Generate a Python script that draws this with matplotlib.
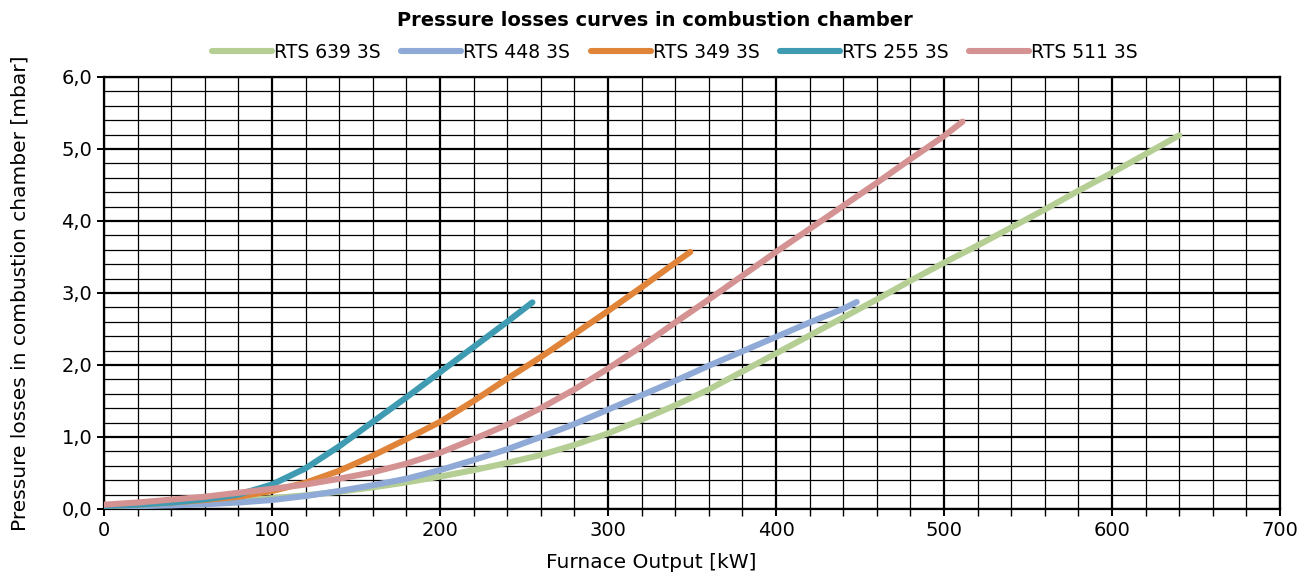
import matplotlib
matplotlib.use("Agg")
import matplotlib.pyplot as plt
from matplotlib.ticker import MultipleLocator, FuncFormatter

# --- data ---
x_639 = [0, 20, 40, 60, 80, 100, 120, 140, 160, 180, 200, 220, 240, 260, 280, 300,
         320, 340, 360, 380, 400, 420, 440, 460, 480, 500, 520, 540, 560, 580, 600, 620, 640]
y_639 = [0.04, 0.06, 0.08, 0.10, 0.12, 0.15, 0.19, 0.24, 0.30, 0.37, 0.45, 0.54, 0.64, 0.75, 0.89, 1.05,
         1.24, 1.44, 1.66, 1.91, 2.16, 2.41, 2.66, 2.91, 3.17, 3.42, 3.66, 3.91, 4.16, 4.42, 4.67, 4.93, 5.19]

x_448 = [0, 20, 40, 60, 80, 100, 120, 140, 160, 180, 200, 220, 240, 260, 280, 300,
         320, 340, 360, 380, 400, 420, 440, 448]
y_448 = [0.03, 0.04, 0.05, 0.065, 0.09, 0.125, 0.18, 0.25, 0.33, 0.42, 0.54, 0.68, 0.83, 1.00, 1.18, 1.38,
         1.58, 1.78, 1.99, 2.19, 2.39, 2.59, 2.78, 2.875]

x_349 = [0, 20, 40, 60, 80, 100, 120, 140, 160, 180, 200, 220, 240, 260, 280, 300, 320, 340, 349]
y_349 = [0.04, 0.06, 0.09, 0.125, 0.17, 0.25, 0.365, 0.53, 0.74, 0.97, 1.21, 1.50, 1.81, 2.11, 2.43, 2.75,
         3.08, 3.42, 3.57]

x_255 = [0, 20, 40, 60, 80, 100, 120, 140, 160, 180, 200, 220, 240, 255]
y_255 = [0.04, 0.06, 0.09, 0.134, 0.20, 0.34, 0.565, 0.87, 1.21, 1.55, 1.90, 2.25, 2.60, 2.87]

x_511 = [0, 20, 40, 60, 80, 100, 120, 140, 160, 180, 200, 220, 240, 260, 280, 300,
         320, 340, 360, 380, 400, 420, 440, 460, 480, 500, 511]
y_511 = [0.06, 0.09, 0.13, 0.17, 0.225, 0.28, 0.34, 0.42, 0.51, 0.63, 0.78, 0.97, 1.17, 1.40, 1.66, 1.95,
         2.26, 2.59, 2.91, 3.24, 3.57, 3.89, 4.21, 4.53, 4.86, 5.18, 5.38]

series = [
    ("RTS 639 3S", x_639, y_639, "#B5CE94"),
    ("RTS 448 3S", x_448, y_448, "#8FAAD6"),
    ("RTS 349 3S", x_349, y_349, "#E0843A"),
    ("RTS 255 3S", x_255, y_255, "#3E9BB1"),
    ("RTS 511 3S", x_511, y_511, "#D49292"),
]

plt.rcParams["font.family"] = ["DejaVu Sans"]

fig = plt.figure(figsize=(13.11, 5.78), dpi=100)
ax = fig.add_axes([0.0793, 0.1194, 0.8971, 0.7474])

for label, xs, ys, col in series:
    ax.plot(xs, ys, color=col, lw=4.4, solid_capstyle="round", label=label, zorder=3)

ax.set_xlim(0, 700)
ax.set_ylim(0, 6)
ax.xaxis.set_major_locator(MultipleLocator(100))
ax.xaxis.set_minor_locator(MultipleLocator(20))
ax.yaxis.set_major_locator(MultipleLocator(1))
ax.yaxis.set_minor_locator(MultipleLocator(0.2))
ax.yaxis.set_major_formatter(FuncFormatter(lambda v, p: f"{v:.1f}".replace(".", ",")))

ax.grid(which="major", color="black", lw=1.6, zorder=1)
ax.grid(which="minor", color="black", lw=0.9, zorder=1)
for s in ax.spines.values():
    s.set_linewidth(1.6)

ax.tick_params(axis="both", which="major", direction="out", length=5, width=1.4, labelsize=14)
ax.tick_params(axis="x", which="minor", direction="out", length=5, width=1)
ax.tick_params(axis="y", which="minor", length=0)

fig.text(20 / 1311, 1 - 293 / 578, "Pressure losses in combustion chamber [mbar]",
         rotation=90, ha="center", va="center", fontsize=14.5)
fig.text(651 / 1311, 1 - 563 / 578, "Furnace Output [kW]", ha="center", va="center", fontsize=14.5)

fig.text(655 / 1311, 1 - 20 / 578, "Pressure losses curves in combustion chamber",
         ha="center", va="center", fontsize=14, fontweight="bold")

fig.legend(loc="center", bbox_to_anchor=(675 / 1311, 1 - 52 / 578), ncol=5, frameon=False,
           fontsize=13.5, handlelength=3.2, handletextpad=0.1, columnspacing=1.1)

fig.savefig("out.png", dpi=100)
